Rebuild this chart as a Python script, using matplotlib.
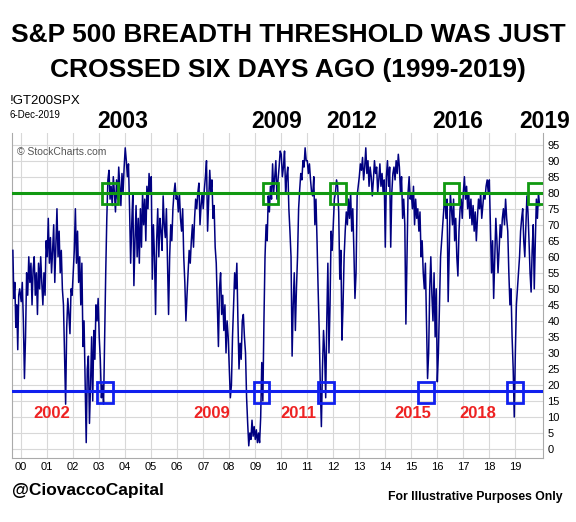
import numpy as np
import matplotlib
matplotlib.use("Agg")
import matplotlib.pyplot as plt
from matplotlib.patches import Rectangle
plt.rcParams['font.family'] = ['Liberation Sans', 'DejaVu Sans']

v1999 = [62,47,52,38,45,31,48,50]
yearly = {
2000: [46,52,40,22,35,55,48,60,52,58,45,56,60,48,55,42,58,50,60,52,45,55,48,65],
2001: [60,72,58,66,55,62,70,52,64,75,60,68,55,62,50,45,30,14,38,47,42,36,50,48],
2002: [55,62,75,58,68,52,60,45,58,32,40,20,2,25,29,8,20,35,15,37,28,45,40,47],
2003: [35,28,16,20,14,35,55,72,84,87,78,82,76,85,80,74,84,78,88,82,76,86,80,88],
2004: [94,90,85,89,75,58,70,80,51,65,76,60,72,58,75,63,80,70,78,65,82,75,86,80],
2005: [85,53,70,60,42,65,75,60,72,68,62,79,70,66,75,58,42,60,70,65,75,80,83,78],
2006: [79,74,80,72,68,75,60,52,40,48,55,62,58,65,70,63,72,78,75,80,83,70,76,80],
2007: [75,81,85,90,68,78,87,80,84,72,76,63,58,45,32,50,55,42,48,37,45,30,40,35],
2008: [25,16,20,35,45,55,50,58,40,25,33,28,40,42,35,30,16,8,1,5,3,9,4,7],
2009: [3,6,2,5,2,10,27,15,40,60,70,65,79,74,82,78,89,80,85,90,78,84,88,93],
2010: [92,85,88,93,80,85,88,75,68,60,29,45,55,37,50,60,75,81,86,84,90,88,94,90],
2011: [90,86,89,84,80,79,85,70,78,65,50,37,20,7,25,37,30,16,40,58,30,45,68,62],
2012: [70,78,80,84,82,74,53,62,34,45,60,68,74,70,78,72,80,68,75,62,47,55,79,82],
2013: [85,89,87,91,84,88,94,86,90,82,88,85,79,84,90,86,88,80,84,89,82,86,80,84],
2014: [63,85,90,82,88,63,80,86,88,84,90,86,92,88,80,85,72,78,70,39,60,80,85,78],
2015: [80,75,82,70,78,72,75,68,74,60,65,55,50,58,40,22,30,50,60,48,40,55,35,50],
2016: [21,30,45,60,65,70,75,80,72,78,46,62,80,75,70,78,65,72,60,54,68,75,78,72],
2017: [80,85,78,82,75,80,72,78,70,76,68,74,65,72,78,75,80,72,76,80,78,82,84,80],
2018: [84,70,55,65,47,60,72,65,55,62,70,66,72,75,70,78,72,68,55,45,50,35,25,10],
2019: [30,45,50,55,60,68,72,75,65,60,70,79,74,65,55,49,62,70,50,65,78,72,80,76],
}
green_years = [2003.41, 2009.58, 2012.19, 2016.55, 2019.8]
blue_years = [2003.22, 2009.24, 2011.72, 2015.57, 2018.99]
top_labels = ["2003", "2009", "2012", "2016", "2019"]
red_labels = ["2002", "2009", "2011", "2015", "2018"]
upper, lower = 80, 18

dates = list(1999.68 + np.arange(len(v1999)) * (0.3 / len(v1999)))
values = list(v1999)
for yr, vals in yearly.items():
    span = 0.93 if yr == 2019 else 1.0
    dates += list(yr + np.arange(len(vals)) * span / (len(vals) - 1 if yr == 2019 else len(vals)))
    values += vals

fig = plt.figure(figsize=(5.76, 5.22), dpi=100)
ax = fig.add_axes([0.021, 0.1226, 0.922, 0.623])
ax.plot(dates, values, color="#000080", lw=1.1, zorder=3)
ax.axhline(upper, color="#119911", lw=2.2, zorder=4)
ax.axhline(lower, color="#1020ee", lw=2.2, zorder=4)
for x in green_years:
    ax.add_patch(Rectangle((x - 0.3, 76.5), 0.6, 6.5, fill=False, ec="#119911", lw=2, zorder=5))
for x in blue_years:
    ax.add_patch(Rectangle((x - 0.3, 14.5), 0.6, 6.5, fill=False, ec="#1020ee", lw=2, zorder=5))
ax.set_xlim(1999.65, 2020.07)
ax.set_ylim(-2.8, 98.7)
ax.set_yticks(np.arange(0, 100, 5))
ax.yaxis.tick_right()
ax.set_xticks(np.arange(2000, 2020))
ax.set_xticklabels([f"{y % 100:02d}" for y in range(2000, 2020)])
ax.tick_params(labelsize=8, length=0, pad=3)
ax.grid(True, color="#d8d8d8", lw=0.8)
for s in ax.spines.values():
    s.set_color("#aaaaaa")
ax.spines['top'].set_visible(False)
ax.text(0.01, 0.955, "© StockCharts.com", transform=ax.transAxes, fontsize=7.5, color="#555555", va="top")

def fx(px): return px / 576
def fy(py): return 1 - py / 522
fig.text(fx(288), fy(35), "S&P 500 BREADTH THRESHOLD WAS JUST", ha="center", va="center", fontsize=19, weight="bold")
fig.text(fx(288), fy(70), "CROSSED SIX DAYS AGO (1999-2019)", ha="center", va="center", fontsize=19, weight="bold")
fig.text(fx(10), fy(101), "!GT200SPX", fontsize=9.5, va="center")
fig.text(fx(10), fy(115), "6-Dec-2019", fontsize=7, va="center")
for lab, px in zip(top_labels, [123, 277, 352, 458, 545]):
    fig.text(fx(px), fy(121), lab, ha="center", va="center", fontsize=16.5, weight="bold")
for lab, px in zip(red_labels, [52, 212, 298, 413, 478]):
    fig.text(fx(px), fy(413), lab, ha="center", va="center", fontsize=12, weight="bold", color="#ee2222")
fig.text(fx(12), fy(491), "@CiovaccoCapital", fontsize=12.5, weight="bold", va="center")
fig.text(fx(388), fy(497), "For Illustrative Purposes Only", fontsize=8.8, weight="bold", va="center")
fig.savefig("out.png", dpi=100)
